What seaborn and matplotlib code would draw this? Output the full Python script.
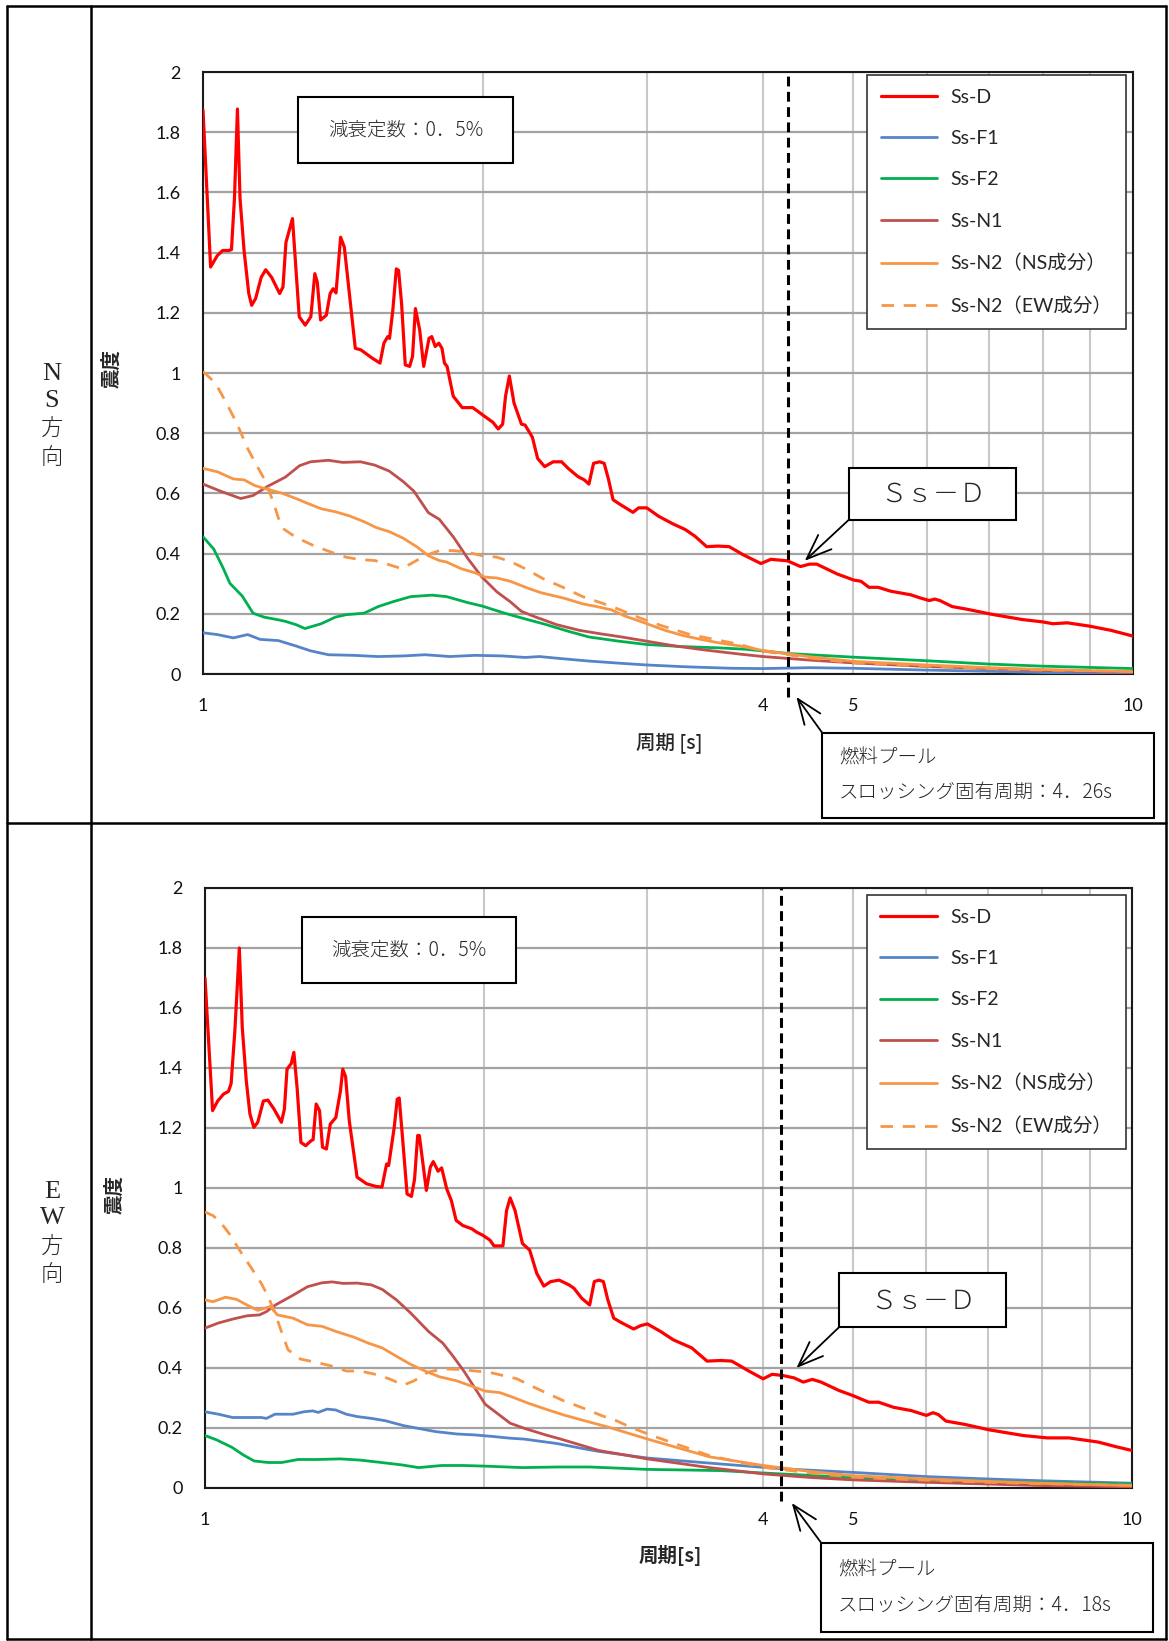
import numpy as np
import pandas as pd
import matplotlib
matplotlib.use("Agg")
import matplotlib.pyplot as plt
import seaborn as sns
from matplotlib.patches import Rectangle
from matplotlib.lines import Line2D
from matplotlib.ticker import FixedLocator, NullFormatter, FuncFormatter

# ---------------- data : NS direction ----------------
NS_D_T = [1.0, 1.019, 1.036, 1.05, 1.066, 1.073, 1.081, 1.089, 1.096, 1.107,
          1.12, 1.128, 1.139, 1.155, 1.168, 1.185, 1.209, 1.219, 1.228, 1.248,
          1.269, 1.288, 1.306, 1.319, 1.327, 1.338, 1.357, 1.37, 1.38, 1.39,
          1.406, 1.419, 1.458, 1.478, 1.521, 1.55, 1.565, 1.58, 1.587, 1.6,
          1.614, 1.623, 1.635, 1.65, 1.668, 1.68, 1.692, 1.71, 1.727, 1.75,
          1.762, 1.777, 1.793, 1.807, 1.818, 1.83, 1.858, 1.9, 1.95, 2.0,
          2.05, 2.077, 2.1, 2.115, 2.135, 2.16, 2.2, 2.22, 2.26, 2.29,
          2.33, 2.38, 2.43, 2.47, 2.53, 2.57, 2.6, 2.63, 2.67, 2.7,
          2.73, 2.76, 2.81, 2.9, 2.94, 3.0, 3.09, 3.2, 3.3, 3.38,
          3.48, 3.58, 3.68, 3.81, 3.98, 4.08, 4.25, 4.39, 4.49, 4.57,
          4.81, 5.01, 5.1, 5.2, 5.32, 5.49, 5.77, 5.9, 6.04, 6.12,
          6.2, 6.39, 6.61, 7.06, 7.6, 8.0, 8.2, 8.5, 8.98, 9.47,
          10.0]
NS_D_A = [1.874, 1.352, 1.39, 1.407, 1.407, 1.41, 1.58, 1.877, 1.58, 1.407,
          1.264, 1.225, 1.247, 1.318, 1.343, 1.318, 1.264, 1.286, 1.434, 1.513,
          1.187, 1.159, 1.187, 1.33, 1.302, 1.176, 1.192, 1.264, 1.28, 1.266,
          1.451, 1.418, 1.082, 1.077, 1.049, 1.033, 1.099, 1.121, 1.115, 1.209,
          1.346, 1.341, 1.231, 1.027, 1.022, 1.055, 1.214, 1.143, 1.022, 1.115,
          1.121, 1.088, 1.099, 1.082, 1.033, 1.022, 0.923, 0.885, 0.885, 0.86,
          0.836, 0.814, 0.83, 0.923, 0.99, 0.9, 0.83, 0.827, 0.787, 0.716,
          0.689, 0.705, 0.705, 0.683, 0.656, 0.645, 0.631, 0.7, 0.705, 0.7,
          0.645, 0.579, 0.563, 0.537, 0.552, 0.552, 0.524, 0.499, 0.48, 0.458,
          0.423, 0.425, 0.423, 0.396, 0.367, 0.381, 0.376, 0.357, 0.365, 0.365,
          0.332, 0.312, 0.308, 0.288, 0.288, 0.275, 0.263, 0.253, 0.244, 0.249,
          0.244, 0.224, 0.216, 0.198, 0.181, 0.173, 0.167, 0.170, 0.159, 0.145,
          0.126]

NS_F1_T = [1.0, 1.036, 1.078, 1.117, 1.152, 1.205, 1.259, 1.305, 1.364, 1.451,
           1.543, 1.642, 1.733, 1.843, 1.962, 2.1, 2.22, 2.3, 2.43, 2.6,
           2.8, 3.0, 3.3, 3.7, 4.0, 4.5, 5.0, 6.0, 7.0, 8.0, 10.0]
NS_F1_A = [0.137, 0.131, 0.12, 0.131, 0.115, 0.111, 0.093, 0.077, 0.064, 0.062,
           0.058, 0.06, 0.064, 0.058, 0.062, 0.06, 0.055, 0.058, 0.051, 0.043,
           0.036, 0.03, 0.024, 0.019, 0.018, 0.021, 0.019, 0.013, 0.009, 0.005, 0.002]

NS_F2_T = [1.0, 1.027, 1.05, 1.069, 1.102, 1.132, 1.163, 1.205, 1.226, 1.259,
           1.287, 1.34, 1.388, 1.425, 1.49, 1.543, 1.6, 1.672, 1.763, 1.828,
           1.927, 1.995, 2.1, 2.22, 2.34, 2.47, 2.6, 2.8, 3.0, 3.28,
           3.58, 3.84, 4.26, 5.0, 6.0, 7.0, 8.0, 10.0]
NS_F2_A = [0.456, 0.415, 0.355, 0.301, 0.259, 0.202, 0.189, 0.18, 0.175, 0.164,
           0.151, 0.167, 0.189, 0.197, 0.202, 0.224, 0.24, 0.257, 0.262, 0.257,
           0.237, 0.226, 0.204, 0.183, 0.164, 0.142, 0.123, 0.109, 0.098, 0.091,
           0.087, 0.082, 0.068, 0.056, 0.044, 0.033, 0.026, 0.018]

NS_N1_T = [1.0, 1.045, 1.098, 1.132, 1.173, 1.226, 1.27, 1.305, 1.364, 1.413,
           1.477, 1.53, 1.586, 1.642, 1.686, 1.747, 1.795, 1.86, 1.927, 1.995,
           2.07, 2.14, 2.2, 2.28, 2.4, 2.54, 2.67, 2.82, 3.0, 3.22,
           3.46, 3.78, 4.0, 4.5, 5.0, 6.0, 7.0, 8.0, 10.0]
NS_N1_A = [0.631, 0.607, 0.583, 0.593, 0.623, 0.654, 0.692, 0.705, 0.71, 0.703,
           0.705, 0.694, 0.674, 0.639, 0.607, 0.536, 0.514, 0.454, 0.383, 0.322,
           0.273, 0.24, 0.208, 0.189, 0.164, 0.145, 0.134, 0.123, 0.109, 0.093,
           0.08, 0.066, 0.058, 0.046, 0.037, 0.025, 0.018, 0.012, 0.006]

NS_N2NS_T = [1.0, 1.036, 1.078, 1.107, 1.137, 1.168, 1.215, 1.259, 1.293, 1.34,
             1.388, 1.438, 1.49, 1.537, 1.586, 1.642, 1.701, 1.747, 1.795, 1.828,
             1.894, 1.962, 2.01, 2.07, 2.14, 2.24, 2.31, 2.45, 2.56, 2.65,
             2.75, 2.84, 2.97, 3.14, 3.28, 3.43, 3.58, 3.78, 4.0, 4.5,
             5.0, 6.0, 7.0, 8.0, 10.0]
NS_N2NS_A = [0.683, 0.672, 0.648, 0.645, 0.626, 0.615, 0.601, 0.583, 0.568, 0.549,
             0.539, 0.525, 0.506, 0.486, 0.473, 0.451, 0.421, 0.393, 0.377, 0.372,
             0.35, 0.336, 0.322, 0.319, 0.308, 0.284, 0.27, 0.251, 0.233, 0.224,
             0.213, 0.193, 0.172, 0.145, 0.128, 0.115, 0.104, 0.093, 0.078, 0.057,
             0.042, 0.03, 0.021, 0.015, 0.008]

NS_N2EW_T = [1.0, 1.031, 1.059, 1.088, 1.117, 1.147, 1.168, 1.189, 1.205, 1.222,
             1.259, 1.316, 1.376, 1.425, 1.477, 1.53, 1.586, 1.635, 1.672, 1.733,
             1.795, 1.86, 1.927, 1.995, 2.07, 2.14, 2.22, 2.32, 2.43, 2.56,
             2.7, 2.8, 2.95, 3.11, 3.34, 3.52, 3.78, 4.0, 4.5, 5.0,
             6.0, 7.0, 8.0, 10.0]
NS_N2EW_A = [1.005, 0.967, 0.902, 0.831, 0.749, 0.683, 0.639, 0.574, 0.519, 0.481,
             0.454, 0.426, 0.404, 0.388, 0.38, 0.377, 0.363, 0.35, 0.366, 0.393,
             0.41, 0.41, 0.404, 0.393, 0.388, 0.374, 0.35, 0.317, 0.29, 0.257,
             0.233, 0.215, 0.186, 0.161, 0.131, 0.117, 0.098, 0.076, 0.053, 0.037,
             0.026, 0.018, 0.013, 0.009]

# ---------------- data : EW direction ----------------
EW_D_T = [1.0, 1.019, 1.032, 1.047, 1.06, 1.067, 1.077, 1.089, 1.097, 1.108,
          1.118, 1.129, 1.14, 1.156, 1.169, 1.187, 1.209, 1.218, 1.226, 1.239,
          1.247, 1.257, 1.269, 1.284, 1.302, 1.308, 1.318, 1.329, 1.339, 1.352,
          1.365, 1.384, 1.4, 1.408, 1.418, 1.431, 1.459, 1.494, 1.53, 1.552,
          1.57, 1.578, 1.6, 1.612, 1.62, 1.636, 1.652, 1.67, 1.683, 1.696,
          1.703, 1.733, 1.75, 1.763, 1.784, 1.8, 1.823, 1.844, 1.866, 1.897,
          1.94, 1.963, 1.995, 2.03, 2.05, 2.096, 2.115, 2.134, 2.16, 2.2,
          2.24, 2.28, 2.32, 2.36, 2.41, 2.47, 2.5, 2.55, 2.6, 2.63,
          2.66, 2.69, 2.72, 2.76, 2.81, 2.9, 2.95, 3.0, 3.1, 3.2,
          3.35, 3.48, 3.6, 3.7, 3.86, 4.0, 4.09, 4.2, 4.32, 4.42,
          4.52, 4.62, 4.83, 5.0, 5.2, 5.33, 5.53, 5.78, 6.0, 6.1,
          6.18, 6.3, 6.6, 7.01, 7.63, 8.1, 8.55, 8.87, 9.2, 9.6,
          10.0]
EW_D_A = [1.70, 1.258, 1.29, 1.313, 1.322, 1.348, 1.524, 1.80, 1.535, 1.357,
          1.247, 1.202, 1.219, 1.29, 1.293, 1.263, 1.219, 1.263, 1.396, 1.415,
          1.452, 1.335, 1.152, 1.141, 1.158, 1.161, 1.28, 1.258, 1.136, 1.13,
          1.213, 1.235, 1.324, 1.396, 1.371, 1.224, 1.036, 1.014, 1.005, 1.003,
          1.08, 1.075, 1.202, 1.296, 1.30, 1.141, 0.98, 0.972, 1.03, 1.175,
          1.175, 0.992, 1.069, 1.088, 1.056, 1.067, 0.997, 0.958, 0.892, 0.875,
          0.864, 0.853, 0.842, 0.826, 0.807, 0.807, 0.925, 0.967, 0.925, 0.815,
          0.793, 0.715, 0.673, 0.688, 0.693, 0.677, 0.666, 0.632, 0.61, 0.688,
          0.693, 0.688, 0.627, 0.566, 0.552, 0.53, 0.541, 0.547, 0.522, 0.494,
          0.467, 0.423, 0.425, 0.423, 0.39, 0.364, 0.379, 0.375, 0.367, 0.353,
          0.362, 0.353, 0.325, 0.308, 0.286, 0.286, 0.269, 0.258, 0.242, 0.251,
          0.245, 0.223, 0.212, 0.194, 0.175, 0.167, 0.167, 0.16, 0.153, 0.138,
          0.125]

EW_F1_T = [1.0, 1.034, 1.071, 1.15, 1.165, 1.19, 1.245, 1.278, 1.307, 1.325,
           1.354, 1.384, 1.42, 1.46, 1.512, 1.566, 1.637, 1.696, 1.773, 1.87,
           1.954, 2.04, 2.134, 2.21, 2.4, 2.55, 2.66, 3.0, 3.5, 4.0,
           4.26, 5.0, 6.0, 7.0, 8.0, 10.0]
EW_F1_A = [0.254, 0.246, 0.235, 0.235, 0.232, 0.246, 0.246, 0.254, 0.257, 0.252,
           0.263, 0.26, 0.246, 0.238, 0.232, 0.224, 0.208, 0.199, 0.188, 0.18,
           0.177, 0.172, 0.166, 0.163, 0.148, 0.132, 0.122, 0.1, 0.083, 0.069,
           0.063, 0.052, 0.038, 0.03, 0.024, 0.016]

EW_F2_T = [1.0, 1.03, 1.07, 1.1, 1.13, 1.17, 1.21, 1.26, 1.32, 1.4,
           1.47, 1.55, 1.63, 1.7, 1.8, 1.9, 2.0, 2.2, 2.4, 2.6,
           2.8, 3.0, 3.3, 3.6, 4.0, 4.5, 5.0, 6.0, 7.0, 8.0, 10.0]
EW_F2_A = [0.175, 0.16, 0.135, 0.11, 0.09, 0.085, 0.085, 0.095, 0.095, 0.097,
           0.093, 0.085, 0.077, 0.068, 0.075, 0.075, 0.073, 0.068, 0.07, 0.07,
           0.066, 0.062, 0.06, 0.058, 0.05, 0.042, 0.035, 0.028, 0.022, 0.018, 0.013]

EW_N1_T = [1.0, 1.034, 1.071, 1.11, 1.145, 1.165, 1.191, 1.245, 1.29, 1.337,
           1.372, 1.409, 1.46, 1.512, 1.553, 1.609, 1.667, 1.742, 1.805, 1.852,
           1.902, 1.954, 2.006, 2.06, 2.134, 2.21, 2.33, 2.42, 2.66, 3.0,
           3.5, 4.0, 4.5, 5.0, 6.0, 7.0, 8.0, 10.0]
EW_N1_A = [0.533, 0.55, 0.563, 0.574, 0.577, 0.588, 0.61, 0.643, 0.671, 0.684,
           0.687, 0.682, 0.683, 0.677, 0.662, 0.627, 0.583, 0.522, 0.483, 0.439,
           0.39, 0.334, 0.279, 0.252, 0.216, 0.199, 0.177, 0.163, 0.125, 0.097,
           0.068, 0.047, 0.035, 0.027, 0.019, 0.013, 0.008, 0.004]

EW_N2NS_T = [1.0, 1.02, 1.052, 1.081, 1.11, 1.14, 1.176, 1.197, 1.245, 1.29,
             1.337, 1.384, 1.447, 1.5, 1.553, 1.609, 1.667, 1.727, 1.789, 1.87,
             1.937, 2.006, 2.08, 2.155, 2.23, 2.33, 2.44, 2.59, 2.73, 2.88,
             3.01, 3.5, 4.0, 4.5, 5.0, 6.0, 7.0, 8.0, 10.0]
EW_N2NS_A = [0.627, 0.621, 0.636, 0.629, 0.61, 0.592, 0.605, 0.577, 0.566, 0.544,
             0.539, 0.522, 0.503, 0.483, 0.467, 0.439, 0.412, 0.39, 0.371, 0.357,
             0.34, 0.323, 0.318, 0.301, 0.283, 0.263, 0.243, 0.221, 0.202, 0.18,
             0.162, 0.104, 0.075, 0.055, 0.041, 0.03, 0.022, 0.016, 0.008]

EW_N2EW_T = [1.0, 1.02, 1.039, 1.062, 1.09, 1.12, 1.15, 1.17, 1.19, 1.207,
             1.229, 1.267, 1.325, 1.372, 1.42, 1.47, 1.526, 1.58, 1.637, 1.68,
             1.74, 1.805, 1.886, 1.955, 2.023, 2.097, 2.17, 2.25, 2.33, 2.44,
             2.55, 2.68, 2.78, 2.88, 3.04, 3.5, 4.0, 4.5, 5.0, 6.0,
             7.0, 8.0, 10.0]
EW_N2EW_A = [0.92, 0.908, 0.886, 0.848, 0.792, 0.737, 0.682, 0.638, 0.583, 0.528,
             0.461, 0.43, 0.417, 0.406, 0.39, 0.39, 0.379, 0.364, 0.343, 0.357,
             0.386, 0.397, 0.395, 0.39, 0.386, 0.375, 0.364, 0.34, 0.318, 0.29,
             0.268, 0.241, 0.224, 0.202, 0.174, 0.108, 0.069, 0.05, 0.036, 0.026,
             0.019, 0.014, 0.009]

SERIES_NAMES = ["Ss-D", "Ss-F1", "Ss-F2", "Ss-N1", "Ss-N2（NS成分）", "Ss-N2（EW成分）"]
X_TICKS = [1, 4, 5, 10]
X_MINOR = [2, 3, 6, 7, 8, 9]
Y_TICKS = [0, 0.2, 0.4, 0.6, 0.8, 1.0, 1.2, 1.4, 1.6, 1.8, 2.0]
NS_POOL_PERIOD = 4.26
EW_POOL_PERIOD = 4.18

# ---------------- styling ----------------
COLORS = {"Ss-D": "#FF0000", "Ss-F1": "#5585C8", "Ss-F2": "#00B050",
          "Ss-N1": "#C0504D", "Ss-N2（NS成分）": "#F79646", "Ss-N2（EW成分）": "#F79646"}
WIDTHS = {"Ss-D": 2.3, "Ss-F1": 2.0, "Ss-F2": 2.0, "Ss-N1": 2.0,
          "Ss-N2（NS成分）": 2.0, "Ss-N2（EW成分）": 2.0}
STYLES = {n: "-" for n in SERIES_NAMES}
STYLES["Ss-N2（EW成分）"] = (0, (4.5, 3.5))

sns.set_style("white")
plt.rcParams['font.family'] = ['Lato', 'Noto Sans CJK JP', 'DejaVu Sans']
CJK = ['Noto Sans CJK JP', 'DejaVu Sans']

W, H = 1169, 1641
fig = plt.figure(figsize=(W / 100, H / 100), dpi=100)


def fx(px):
    return px / W


def fy(py):
    return 1 - py / H


# table frame
for (x0, y0, x1, y1) in [(7, 6, 1166, 6), (7, 1639, 1166, 1639), (7, 6, 7, 1639),
                         (1166, 6, 1166, 1639), (91, 6, 91, 1639), (7, 823, 1166, 823)]:
    fig.add_artist(Line2D([fx(x0), fx(x1)], [fy(y0), fy(y1)], transform=fig.transFigure,
                          color='black', lw=1.8))

panels = [
    dict(rect=(203, 72, 1133, 674),
         data={"Ss-D": (NS_D_T, NS_D_A), "Ss-F1": (NS_F1_T, NS_F1_A), "Ss-F2": (NS_F2_T, NS_F2_A),
               "Ss-N1": (NS_N1_T, NS_N1_A), "Ss-N2（NS成分）": (NS_N2NS_T, NS_N2NS_A),
               "Ss-N2（EW成分）": (NS_N2EW_T, NS_N2EW_A)},
         period=NS_POOL_PERIOD, vbot=-0.038, xlabel="周期 [s]", xlw='medium',
         xlab=(0.501, -0.113), ylab=(-0.098, 0.507),
         damp=(0.102, 0.849, 0.231, 0.109), leg=(0.714, 0.995),
         ssd=(0.695, 0.256, 0.179, 0.087), ssd_arrow=((0.695, 0.257), (0.647, 0.188)),
         pool=(0.666, -0.239, 0.357, 0.141), pool_arrow=((0.666, -0.098), (0.638, -0.038)),
         side=(52, [374, 401, 429, 458], ["N", "S", "方", "向"])),
    dict(rect=(205, 888, 1132, 1488),
         data={"Ss-D": (EW_D_T, EW_D_A), "Ss-F1": (EW_F1_T, EW_F1_A), "Ss-F2": (EW_F2_T, EW_F2_A),
               "Ss-N1": (EW_N1_T, EW_N1_A), "Ss-N2（NS成分）": (EW_N2NS_T, EW_N2NS_A),
               "Ss-N2（EW成分）": (EW_N2EW_T, EW_N2EW_A)},
         period=EW_POOL_PERIOD, vbot=-0.022, xlabel="周期[s]", xlw='bold',
         xlab=(0.502, -0.112), ylab=(-0.097, 0.49),
         damp=(0.105, 0.842, 0.23, 0.11), leg=(0.714, 0.988),
         ssd=(0.684, 0.268, 0.18, 0.09), ssd_arrow=((0.684, 0.268), (0.638, 0.2)),
         pool=(0.665, -0.24, 0.358, 0.148), pool_arrow=((0.665, -0.092), (0.633, -0.025)),
         side=(52, [1192, 1218, 1247, 1275], ["E", "W", "方", "向"])),
]

for p in panels:
    l, t, r, b = p["rect"]
    ax = fig.add_axes([fx(l), fy(b), (r - l) / W, (b - t) / H])
    for name in SERIES_NAMES:
        T, A = p["data"][name]
        sns.lineplot(x=T, y=A, ax=ax, color=COLORS[name], lw=WIDTHS[name],
                     linestyle=STYLES[name], label=name, estimator=None, sort=False,
                     zorder=3)
    ax.set_xscale('log')
    ax.set_xlim(1, 10)
    ax.set_ylim(0, 2)
    ax.set_axisbelow(True)
    ax.xaxis.set_major_locator(FixedLocator(X_TICKS))
    ax.xaxis.set_major_formatter(FuncFormatter(lambda v, pos: "%g" % v))
    ax.xaxis.set_minor_locator(FixedLocator(X_MINOR))
    ax.xaxis.set_minor_formatter(NullFormatter())
    ax.yaxis.set_major_locator(FixedLocator(Y_TICKS))
    ax.yaxis.set_major_formatter(FuncFormatter(lambda v, pos: "%g" % v))
    ax.grid(which='both', axis='x', color='#c8c8c8', lw=1.5)
    ax.grid(which='major', axis='y', color='#a3a3a3', lw=1.6)
    ax.tick_params(axis='both', which='both', length=0, labelsize=13, colors='#111111')
    ax.tick_params(axis='y', pad=16)
    ax.tick_params(axis='x', pad=17)
    for s in ax.spines.values():
        s.set_visible(True)
        s.set_color('#1a1a1a')
        s.set_linewidth(1.5)

    ax.set_xlabel(p["xlabel"], fontsize=14, fontweight=p["xlw"], family=CJK)
    ax.xaxis.set_label_coords(*p["xlab"])
    ax.xaxis.label.set_va('center')
    ax.set_ylabel("震度", fontsize=14, fontweight='bold', family=CJK)
    ax.yaxis.set_label_coords(*p["ylab"])
    ax.yaxis.label.set_va('center')

    # pool sloshing period line
    ax.axvline(p["period"], ymin=p["vbot"], ymax=1, color='black', lw=2.2,
               dashes=(3.2, 1.8), clip_on=False, zorder=5)

    # legend
    leg = ax.legend(loc='upper left', bbox_to_anchor=p["leg"], bbox_transform=ax.transAxes,
                    borderaxespad=0, frameon=True, fancybox=False, edgecolor='#333333',
                    framealpha=1, fontsize=14, handlelength=2.9, handletextpad=0.7,
                    labelspacing=1.25, borderpad=0.7)
    leg.get_frame().set_linewidth(1.2)
    leg.set_zorder(7)

    def box(x0, y0, w, h):
        ax.add_patch(Rectangle((x0, y0), w, h, transform=ax.transAxes, facecolor='white',
                               edgecolor='black', lw=1.5, clip_on=False, zorder=6))

    # damping box
    dx, dy, dw, dh = p["damp"]
    box(dx, dy, dw, dh)
    ax.text(dx + dw / 2, dy + dh / 2, "減衰定数：0．5%", transform=ax.transAxes,
            ha='center', va='center', fontsize=14, family=CJK, fontweight='light', zorder=8)

    # Ss-D box
    sx, sy, sw, sh = p["ssd"]
    box(sx, sy, sw, sh)
    ax.text(sx + sw / 2, sy + sh / 2, "Ｓｓ－Ｄ", transform=ax.transAxes,
            ha='center', va='center', fontsize=19, family=CJK, fontweight='light', zorder=8)
    ax.annotate("", xy=p["ssd_arrow"][1], xytext=p["ssd_arrow"][0],
                xycoords='axes fraction', textcoords='axes fraction',
                arrowprops=dict(arrowstyle='->,head_length=0.9,head_width=0.35', color='black',
                                lw=1.3, mutation_scale=20, shrinkA=0, shrinkB=0),
                annotation_clip=False, zorder=8)

    # pool box
    px_, py_, pw, ph = p["pool"]
    box(px_, py_, pw, ph)
    ax.text(px_ + 0.018, py_ + ph * 0.7, "燃料プール", transform=ax.transAxes,
            ha='left', va='center', fontsize=14, family=CJK, fontweight='light', zorder=8)
    ax.text(px_ + 0.018, py_ + ph * 0.3,
            "スロッシング固有周期：%s" % ("%.2f" % p["period"]).replace(".", "．") + "s",
            transform=ax.transAxes, ha='left', va='center', fontsize=14, family=CJK,
            fontweight='light', zorder=8)
    ax.annotate("", xy=p["pool_arrow"][1], xytext=p["pool_arrow"][0],
                xycoords='axes fraction', textcoords='axes fraction',
                arrowprops=dict(arrowstyle='->,head_length=0.9,head_width=0.35', color='black',
                                lw=1.3, mutation_scale=20, shrinkA=0, shrinkB=0),
                annotation_clip=False, zorder=8)

    # side label
    sxp, sys_, chars = p["side"]
    for yy, ch in zip(sys_, chars):
        if ch.isascii():
            fig.text(fx(sxp), fy(yy), ch, ha='center', va='center', fontsize=19,
                     family=['Liberation Serif', 'DejaVu Serif'])
        else:
            fig.text(fx(sxp), fy(yy), ch, ha='center', va='center', fontsize=16,
                     family=CJK, fontweight='light')

fig.savefig("out.png", dpi=100)
